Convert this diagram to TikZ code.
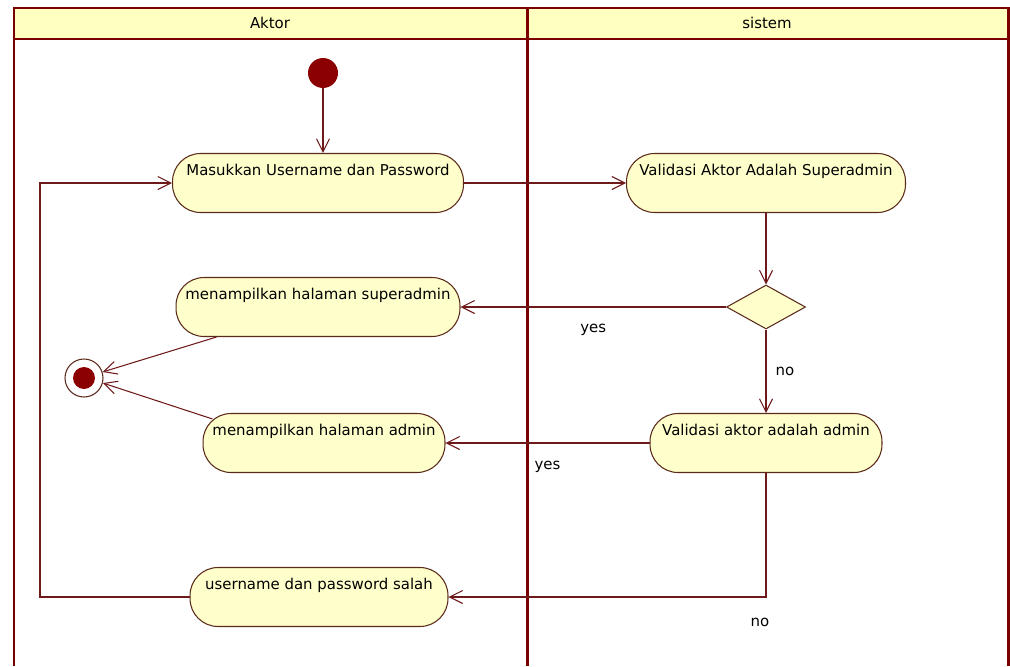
\documentclass[tikz,border=0pt]{standalone}
\usepackage{fontspec}
\setmainfont{DejaVu Sans}
\usetikzlibrary{arrows.meta,shapes.geometric}

\begin{document}
\begin{tikzpicture}[x=0.02cm, y=-0.02cm, font=\fontsize{8.5}{10}\selectfont]
    % Define colours
    \definecolor{laneColour}{HTML}{7A0000}
    \definecolor{headColour}{HTML}{FFFFC0}
    \definecolor{fillColour}{HTML}{FFFFCC}
    \definecolor{edgeColour}{HTML}{5A2A1A}
    \definecolor{flowColour}{HTML}{6E1A1A}
    \definecolor{dotColour}{HTML}{8B0000}

    % Define styles
    \tikzset{
        action/.style={draw=edgeColour, fill=fillColour, line width=0.6pt, rounded corners=0.56cm,
            inner xsep=0pt, inner ysep=0pt, text height=0.44cm, text depth=0.74cm},
        decision/.style={diamond, draw=edgeColour, fill=fillColour, line width=0.6pt, inner sep=0pt,
            minimum width=1.58cm, minimum height=0.88cm},
        flow/.style={draw=flowColour, line width=0.6pt, -{Straight Barb[length=2.6mm,width=2.6mm]}},
        lane/.style={draw=laneColour, line width=1.7pt},
        guard/.style={inner sep=0pt}
    }

    % Fix picture size
    \useasboundingbox (0,0) rectangle (1010,666);

    % Draw swimlanes
    \filldraw[lane, fill=headColour] (14,8) rectangle (1008,39);
    \draw[lane] (14,8) -- (14,666);
    \draw[lane] (527,8) -- (527,666);
    \draw[lane] (1008,8) -- (1008,666);
    \node (aktorHead) at (270,23) {Aktor};
    \node (sistemHead) at (767,23) {sistem};

    % Start and end
    \node[circle, fill=dotColour, minimum size=0.6cm, inner sep=0pt] (start) at (323,73) {};
    \node[circle, draw=edgeColour, fill=white, line width=0.6pt, minimum size=0.76cm, inner sep=0pt] (finish) at (84,378) {};
    \node[circle, fill=dotColour, minimum size=0.44cm, inner sep=0pt] (finishDot) at (finish) {};

    % Actions
    \node[action, minimum width=5.82cm] (masuk) at (318,183) {Masukkan Username dan Password};
    \node[action, minimum width=5.58cm] (validSuper) at (766,183) {Validasi Aktor Adalah Superadmin};
    \node[decision] (cek) at (766,307) {};
    \node[action, minimum width=5.68cm] (halSuper) at (318,307) {menampilkan halaman superadmin};
    \node[action, minimum width=4.84cm] (halAdmin) at (324,443) {menampilkan halaman admin};
    \node[action, minimum width=4.64cm] (validAdmin) at (766,443) {Validasi aktor adalah admin};
    \node[action, minimum width=5.16cm] (salah) at (319,597) {username dan password salah};
    \coordinate (loopTurn) at (40,597);

    % Flows
    \draw[flow] (start) -- (masuk.north -| start);
    \draw[flow] (masuk) -- (validSuper);
    \draw[flow] (validSuper) -- (cek);
    \draw[flow] (cek) -- node[guard, midway, yshift=-0.46cm] (yesSuper) {yes} (halSuper);
    \draw[flow] (cek) -- node[guard, midway, xshift=0.38cm] (noSuper) {no} (validAdmin);
    \draw[flow] (validAdmin) -- node[guard, midway, yshift=-0.48cm] (yesAdmin) {yes} (halAdmin);
    \draw[flow] (validAdmin) |- node[guard, pos=0.5, xshift=-0.12cm, yshift=-0.5cm] (noAdmin) {no} (salah);
    \draw[flow] ([xshift=0.82cm]halSuper.south west) -- (finish.18);
    \draw[flow] ([xshift=0.2cm, yshift=-0.12cm]halAdmin.north west) -- (finish.-15);
    \draw[flow] (salah) -- (loopTurn) |- (masuk);

\end{tikzpicture}
\end{document}
